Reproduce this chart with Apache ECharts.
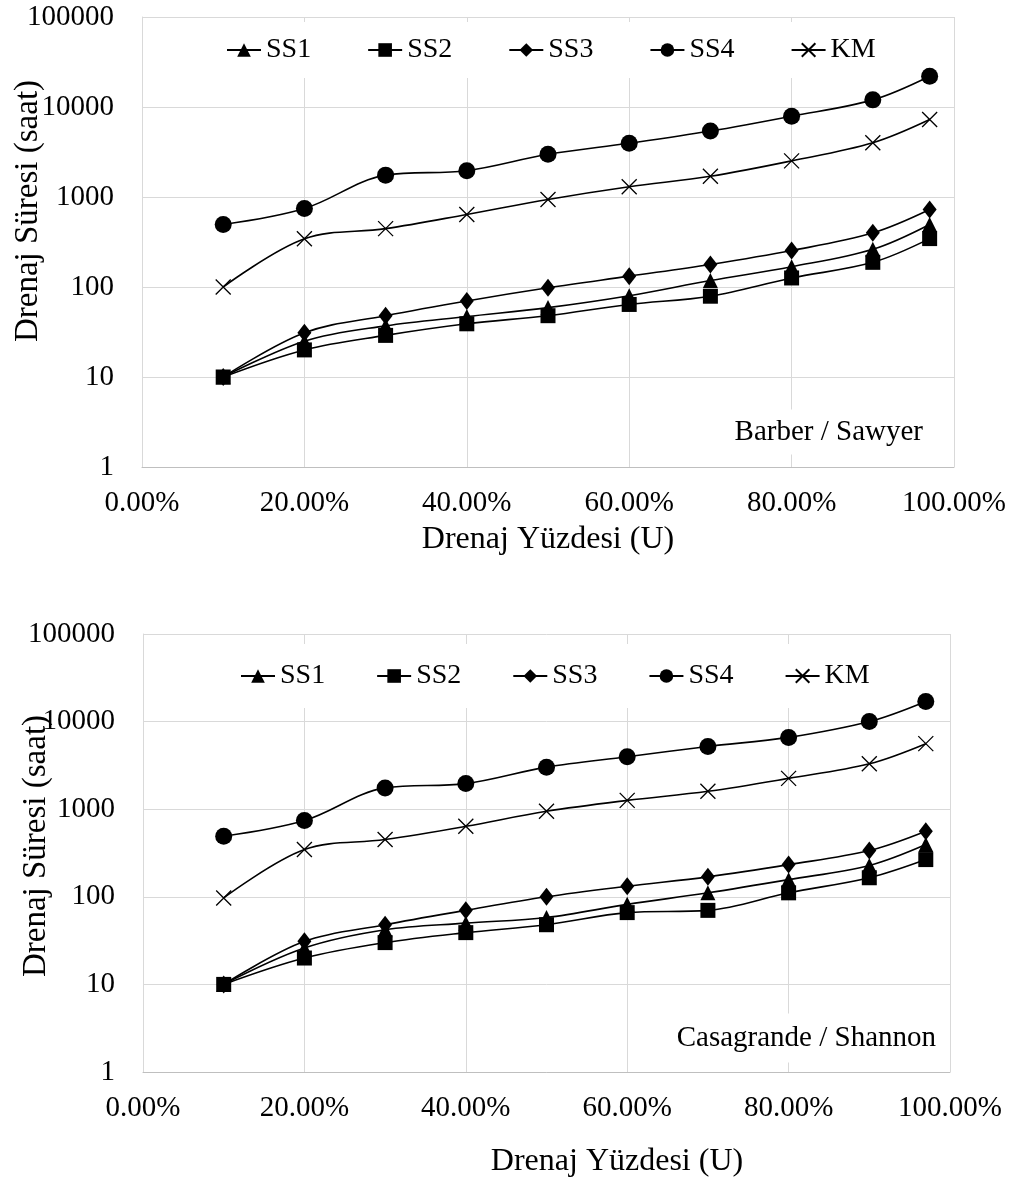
<!DOCTYPE html>
<html>
<head>
<meta charset="utf-8">
<script src="https://cdn.jsdelivr.net/npm/echarts@6/dist/echarts.min.js"></script>
<style>
  html, body { margin: 0; padding: 0; background: #fff; }
  #chart { width: 1019px; height: 1185px; }
</style>
</head>
<body>
<div id="chart"></div>
<script>
// drenaj yüzdesi (x), her iki grafik için aynı
const xPct = [10, 20, 30, 40, 50, 60, 70, 80, 90, 97]
const xTicks = [0, 20, 40, 60, 80, 100]
const yTicks = [1, 10, 100, 1000, 10000, 100000]
const seriesNames = ['SS1', 'SS2', 'SS3', 'SS4', 'KM']

// Barber / Sawyer
const bsSS1 = [10, 25, 37, 47, 59, 80, 118, 168, 262, 495]
const bsSS2 = [10, 20, 29, 39, 48, 64, 79, 126, 188, 345]
const bsSS3 = [10, 31, 48, 70, 98, 132, 178, 254, 400, 728]
const bsSS4 = [495, 745, 1750, 1960, 2980, 3950, 5400, 7900, 12000, 22000]
const bsKM = [100, 343, 445, 640, 940, 1300, 1700, 2520, 4000, 7250]

// Casagrande / Shannon
const csSS1 = [10, 26, 42, 50, 58, 82, 111, 157, 228, 395]
const csSS2 = [10, 20, 30, 39, 48, 66, 70, 111, 165, 266]
const csSS3 = [10, 31, 48, 70, 100, 132, 169, 233, 337, 560]
const csSS4 = [491, 741, 1750, 1960, 3020, 3970, 5200, 6600, 10000, 17000]
const csKM = [97, 346, 450, 638, 946, 1260, 1600, 2250, 3300, 5600]

const FONT = "'Liberation Serif', 'Times New Roman', serif"
const symbols = ['triangle', 'rect', 'diamond', 'circle', 'path://M0,0L10,10M10,0L0,10']
const symbolSizes = [15, 15, [14, 18], 17, 15]

function makeSeries(arrs, idx) {
  return arrs.map((arr, i) => ({
    name: seriesNames[i],
    type: 'line',
    xAxisIndex: idx,
    yAxisIndex: idx,
    data: xPct.map((x, j) => [x, arr[j]]),
    smooth: 0.35,
    symbol: symbols[i],
    symbolSize: symbolSizes[i],
    lineStyle: { color: '#000', width: 1.6 },
    itemStyle: { color: '#000', borderColor: '#000', borderWidth: i === 4 ? 1.3 : 0 },
    emphasis: { disabled: true },
  }))
}

function makeXAxis(idx) {
  return {
    type: 'value',
    gridIndex: idx,
    min: xTicks[0],
    max: xTicks[xTicks.length - 1],
    interval: 20,
    axisLine: { lineStyle: { color: '#bfbfbf', width: 1 } },
    axisTick: { show: false },
    splitLine: { lineStyle: { color: '#d9d9d9', width: 1 } },
    axisLabel: {
      margin: 22,
      color: '#000',
      fontSize: 29,
      fontFamily: FONT,
      formatter: (v) => v.toFixed(2) + '%',
    },
  }
}

function makeYAxis(idx) {
  return {
    type: 'log',
    logBase: 10,
    gridIndex: idx,
    min: yTicks[0],
    max: yTicks[yTicks.length - 1],
    axisLine: { show: true, lineStyle: { color: '#d9d9d9', width: 1 } },
    axisTick: { show: false },
    splitLine: { lineStyle: { color: '#d9d9d9', width: 1 } },
    axisLabel: {
      margin: 28,
      color: '#000',
      fontSize: 29,
      fontFamily: FONT,
      formatter: (v) => String(Math.round(v)),
    },
  }
}

function makeLegend(idx, left, top, gap, pad) {
  return {
    left: left,
    top: top,
    itemGap: gap,
    itemWidth: 34,
    itemHeight: 17,
    padding: pad,
    backgroundColor: '#fff',
    data: seriesNames,
    textStyle: { color: '#000', fontSize: 28, fontFamily: FONT },
  }
}

function txt(text, x, y, size, opts) {
  return Object.assign({
    type: 'text',
    x: x,
    y: y,
    z: 100,
    style: Object.assign({
      text: text,
      fill: '#000',
      fontSize: size,
      fontFamily: FONT,
      align: 'center',
      verticalAlign: 'middle',
    }, (opts && opts.style) || {}),
  }, opts && opts.rotation ? { rotation: opts.rotation } : {})
}

const chart = echarts.init(document.getElementById('chart'))
chart.setOption({
  animation: false,
  backgroundColor: '#fff',
  grid: [
    { left: 142, top: 17, width: 812, height: 450 },
    { left: 143, top: 634, width: 807, height: 438 },
  ],
  xAxis: [makeXAxis(0), makeXAxis(1)],
  yAxis: [makeYAxis(0), makeYAxis(1)],
  legend: [
    makeLegend(0, 214, 22, 56, [14, 12]),
    makeLegend(1, 228, 644, 51, [18, 12]),
  ],
  graphic: [
    txt('Drenaj Yüzdesi (U)', 548, 540, 32),
    txt('Drenaj Yüzdesi (U)', 617, 1162, 32),
    txt('Drenaj Süresi (saat)', 28, 211, 33, { rotation: Math.PI / 2 }),
    txt('Drenaj Süresi (saat)', 36, 846, 33, { rotation: Math.PI / 2 }),
    txt('Barber / Sawyer', 927, 432, 29, {
      style: { align: 'right', backgroundColor: '#fff', padding: [8, 4] },
    }),
    txt('Casagrande / Shannon', 940, 1038, 29, {
      style: { align: 'right', backgroundColor: '#fff', padding: [10, 4] },
    }),
  ],
  series: [
    ...makeSeries([bsSS1, bsSS2, bsSS3, bsSS4, bsKM], 0),
    ...makeSeries([csSS1, csSS2, csSS3, csSS4, csKM], 1),
  ],
})
</script>
</body>
</html>
